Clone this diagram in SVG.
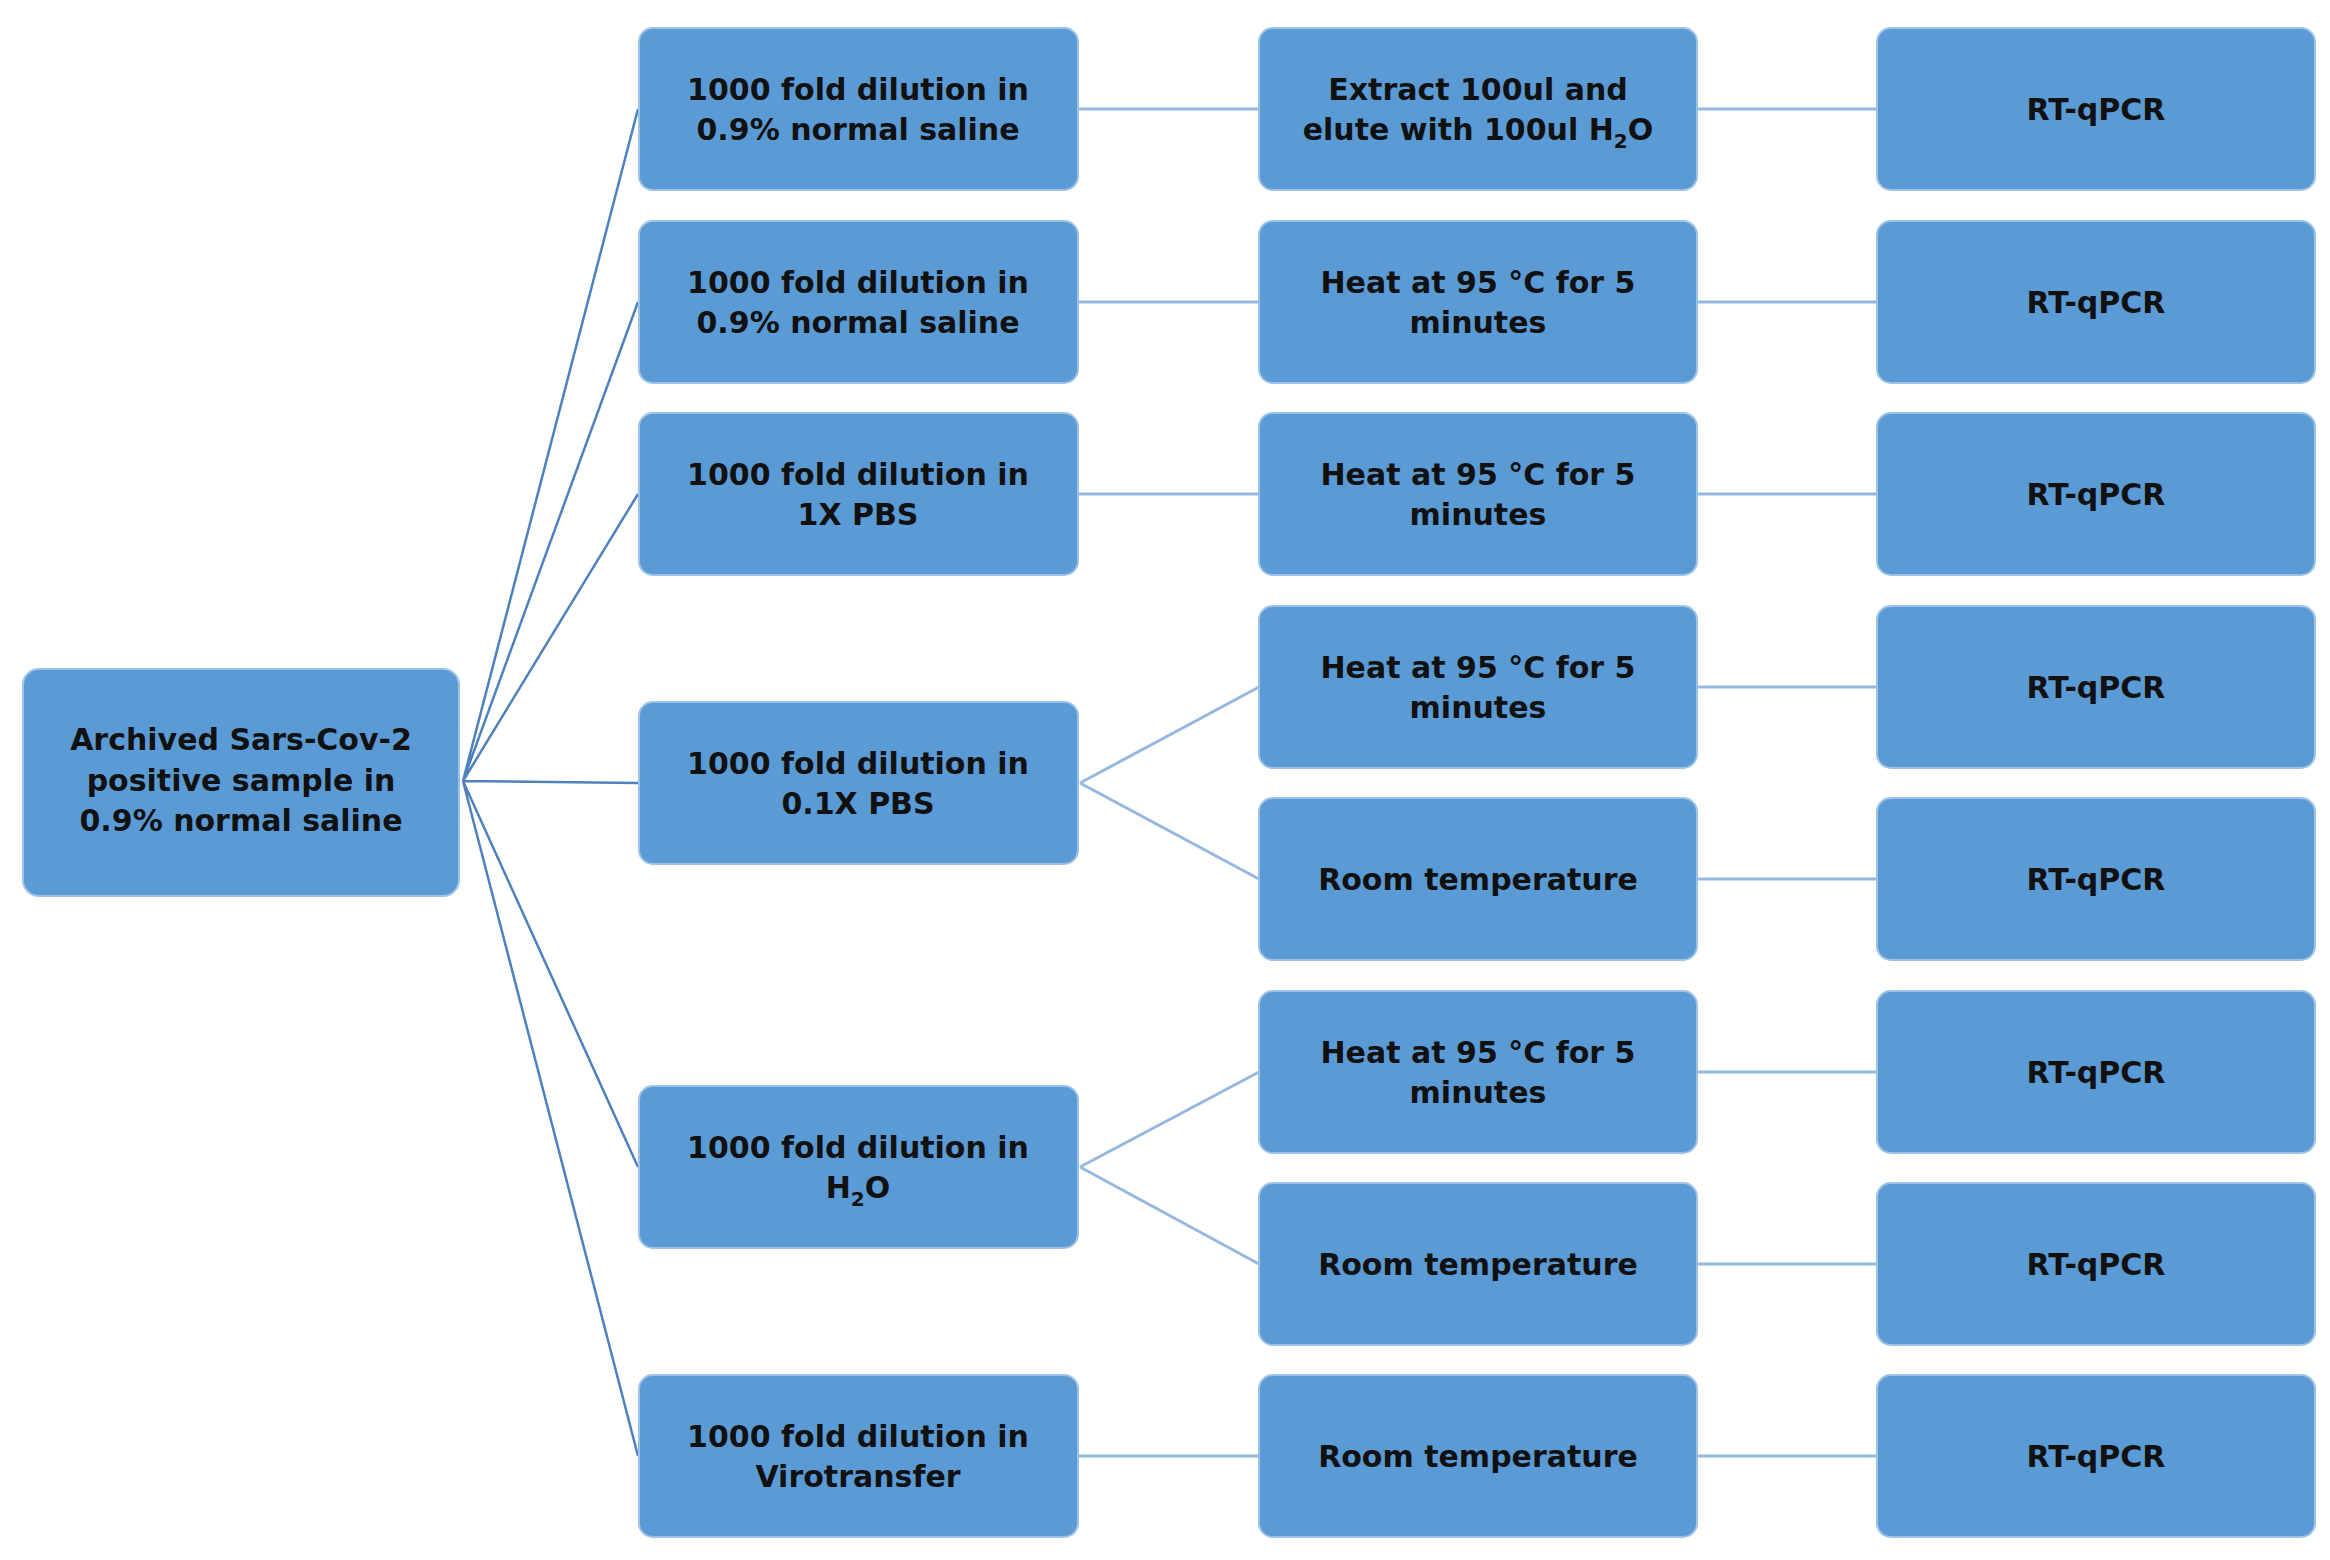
<svg xmlns="http://www.w3.org/2000/svg" width="2330" height="1560" viewBox="0 0 2330 1560">
<style>
.b{fill:#5b9bd5;stroke:#9cc2e8;stroke-width:2}
text{font-family:"DejaVu Sans","Verdana",sans-serif;font-weight:bold;font-size:30px;fill:#111;text-anchor:middle}
.s{font-size:20px}
.c1{stroke:#4f81bd;stroke-width:2.5;fill:none}
.c2{stroke:#95b8e0;stroke-width:3;fill:none}
</style>
<rect width="2330" height="1560" fill="#fff"/>
<g id="connectors">
<path class="c1" d="M463 781L638 109M463 781L638 302M463 781L638 494M463 781L638 783M463 781L638 1167M463 781L638 1456"/>
<path class="c2" d="M1078 109H1259M1078 302H1259M1078 494H1259M1080 783L1259 687M1080 783L1259 879M1080 1167L1259 1072M1080 1167L1259 1264M1078 1456H1259"/>
<path class="c2" d="M1697 109H1877M1697 302H1877M1697 494H1877M1697 687H1877M1697 879H1877M1697 1072H1877M1697 1264H1877M1697 1456H1877"/>
</g>
<g id="root"><rect class="b" x="23" y="669" width="436" height="227" rx="16"/><text x="241" y="750">Archived Sars-Cov-2</text><text x="241" y="791">positive sample in</text><text x="241" y="831">0.9% normal saline</text></g>
<g id="d1"><rect class="b" x="639" y="28" width="439" height="162" rx="14"/><text x="858" y="100">1000 fold dilution in</text><text x="858" y="140">0.9% normal saline</text></g>
<g id="d2"><rect class="b" x="639" y="221" width="439" height="162" rx="14"/><text x="858" y="293">1000 fold dilution in</text><text x="858" y="333">0.9% normal saline</text></g>
<g id="d3"><rect class="b" x="639" y="413" width="439" height="162" rx="14"/><text x="858" y="485">1000 fold dilution in</text><text x="858" y="525">1X PBS</text></g>
<g id="d4"><rect class="b" x="639" y="702" width="439" height="162" rx="14"/><text x="858" y="774">1000 fold dilution in</text><text x="858" y="814">0.1X PBS</text></g>
<g id="d5"><rect class="b" x="639" y="1086" width="439" height="162" rx="14"/><text x="858" y="1158">1000 fold dilution in</text><text x="858" y="1198">H<tspan class="s" dy="8">2</tspan><tspan dy="-8">O</tspan></text></g>
<g id="d6"><rect class="b" x="639" y="1375" width="439" height="162" rx="14"/><text x="858" y="1447">1000 fold dilution in</text><text x="858" y="1487">Virotransfer</text></g>
<g id="p1"><rect class="b" x="1259" y="28" width="438" height="162" rx="14"/><text x="1478" y="100">Extract 100ul and</text><text x="1478" y="140">elute with 100ul H<tspan class="s" dy="8">2</tspan><tspan dy="-8">O</tspan></text></g>
<g id="p2"><rect class="b" x="1259" y="221" width="438" height="162" rx="14"/><text x="1478" y="293">Heat at 95 °C for 5</text><text x="1478" y="333">minutes</text></g>
<g id="p3"><rect class="b" x="1259" y="413" width="438" height="162" rx="14"/><text x="1478" y="485">Heat at 95 °C for 5</text><text x="1478" y="525">minutes</text></g>
<g id="p4"><rect class="b" x="1259" y="606" width="438" height="162" rx="14"/><text x="1478" y="678">Heat at 95 °C for 5</text><text x="1478" y="718">minutes</text></g>
<g id="p5"><rect class="b" x="1259" y="798" width="438" height="162" rx="14"/><text x="1478" y="890">Room temperature</text></g>
<g id="p6"><rect class="b" x="1259" y="991" width="438" height="162" rx="14"/><text x="1478" y="1063">Heat at 95 °C for 5</text><text x="1478" y="1103">minutes</text></g>
<g id="p7"><rect class="b" x="1259" y="1183" width="438" height="162" rx="14"/><text x="1478" y="1275">Room temperature</text></g>
<g id="p8"><rect class="b" x="1259" y="1375" width="438" height="162" rx="14"/><text x="1478" y="1467">Room temperature</text></g>
<g id="r1"><rect class="b" x="1877" y="28" width="438" height="162" rx="14"/><text x="2096" y="120">RT-qPCR</text></g>
<g id="r2"><rect class="b" x="1877" y="221" width="438" height="162" rx="14"/><text x="2096" y="313">RT-qPCR</text></g>
<g id="r3"><rect class="b" x="1877" y="413" width="438" height="162" rx="14"/><text x="2096" y="505">RT-qPCR</text></g>
<g id="r4"><rect class="b" x="1877" y="606" width="438" height="162" rx="14"/><text x="2096" y="698">RT-qPCR</text></g>
<g id="r5"><rect class="b" x="1877" y="798" width="438" height="162" rx="14"/><text x="2096" y="890">RT-qPCR</text></g>
<g id="r6"><rect class="b" x="1877" y="991" width="438" height="162" rx="14"/><text x="2096" y="1083">RT-qPCR</text></g>
<g id="r7"><rect class="b" x="1877" y="1183" width="438" height="162" rx="14"/><text x="2096" y="1275">RT-qPCR</text></g>
<g id="r8"><rect class="b" x="1877" y="1375" width="438" height="162" rx="14"/><text x="2096" y="1467">RT-qPCR</text></g>
</svg>
